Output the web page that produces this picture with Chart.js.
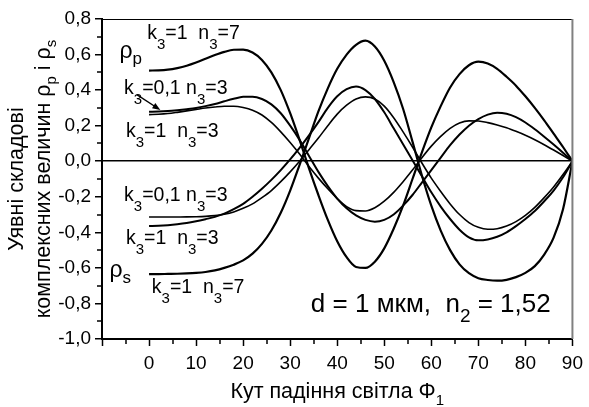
<!DOCTYPE html>
<html>
<head>
<meta charset="utf-8">
<script src="https://cdn.jsdelivr.net/npm/chart.js@4.4.1/dist/chart.umd.min.js"></script>
<style>
html,body{margin:0;padding:0;background:#fff}
</style>
</head>
<body>
<canvas id="graf" width="589" height="407"></canvas>
<script>
// ===== ДАНІ =====
// кут падіння, градуси
const kuty = [0,2,4,6,8,10,12,14,16,18,20,22,24,26,28,30,32,34,36,38,40,42,44,46,48,50,52,54,56,58,60,62,64,66,68,70,72,74,76,78,80,82,84,86,88,90]

// ρp
const rhoP_k1_n7 = [0.51,0.511,0.515,0.524,0.537,0.555,0.576,0.597,0.615,0.627,0.628,0.612,0.57,0.50,0.40,0.27,0.12,-0.04,-0.19,-0.33,-0.45,-0.54,-0.595,-0.60,-0.565,-0.49,-0.38,-0.25,-0.10,0.05,0.19,0.31,0.415,0.49,0.54,0.56,0.55,0.52,0.475,0.425,0.365,0.30,0.23,0.155,0.08,0]
const rhoP_k01_n3 = [0.278,0.279,0.282,0.287,0.293,0.30,0.31,0.322,0.337,0.351,0.362,0.363,0.35,0.32,0.27,0.20,0.12,0.03,-0.06,-0.14,-0.21,-0.265,-0.305,-0.33,-0.34,-0.33,-0.30,-0.25,-0.19,-0.12,-0.05,0.02,0.09,0.15,0.20,0.237,0.262,0.273,0.267,0.248,0.218,0.18,0.138,0.094,0.048,0]
const rhoP_k1_n3 = [0.262,0.264,0.268,0.275,0.283,0.291,0.299,0.305,0.309,0.309,0.302,0.287,0.26,0.218,0.165,0.105,0.04,-0.03,-0.095,-0.155,-0.21,-0.255,-0.278,-0.28,-0.262,-0.225,-0.175,-0.115,-0.05,0.02,0.085,0.14,0.185,0.215,0.227,0.226,0.217,0.204,0.188,0.168,0.146,0.121,0.093,0.063,0.032,0]

// ρs
const rhoS_k01_n3 = [-0.314,-0.314,-0.314,-0.3135,-0.313,-0.312,-0.31,-0.306,-0.298,-0.285,-0.265,-0.24,-0.205,-0.165,-0.115,-0.06,0.0,0.065,0.13,0.20,0.265,0.315,0.35,0.362,0.35,0.31,0.245,0.165,0.08,-0.01,-0.095,-0.17,-0.24,-0.30,-0.345,-0.372,-0.383,-0.38,-0.365,-0.34,-0.305,-0.26,-0.205,-0.145,-0.075,0]
const rhoS_k1_n3 = [-0.364,-0.363,-0.36,-0.355,-0.348,-0.338,-0.326,-0.313,-0.295,-0.27,-0.24,-0.20,-0.155,-0.105,-0.05,0.01,0.075,0.145,0.22,0.30,0.365,0.405,0.42,0.40,0.35,0.275,0.185,0.095,0.005,-0.085,-0.175,-0.255,-0.325,-0.385,-0.428,-0.445,-0.44,-0.425,-0.40,-0.365,-0.325,-0.28,-0.225,-0.165,-0.09,0]
const rhoS_k1_n7 = [-0.635,-0.635,-0.634,-0.633,-0.631,-0.628,-0.623,-0.614,-0.60,-0.582,-0.558,-0.52,-0.465,-0.39,-0.29,-0.165,-0.02,0.13,0.28,0.41,0.52,0.60,0.655,0.678,0.645,0.565,0.445,0.295,0.11,-0.08,-0.25,-0.39,-0.50,-0.58,-0.63,-0.658,-0.668,-0.672,-0.667,-0.652,-0.628,-0.59,-0.525,-0.43,-0.27,0]

// підписи кривих: [текст, індекс?]
const pidpysy = [
    { x: -6.3, y: 0.58,   chastyny: [["ρ",0],["p",1]], velyki: true },
    { x: -0.4, y: 0.69,   chastyny: [["k",0],["3",1],["=1  n",0],["3",1],["=7",0]] },
    { x: -5.3, y: 0.38,   chastyny: [["k",0],["3",1],["=0,1 n",0],["3",1],["=3",0]] },
    { x: -4.9, y: 0.135,  chastyny: [["k",0],["3",1],["=1  n",0],["3",1],["=3",0]] },
    { x: -5.3, y: -0.224, chastyny: [["k",0],["3",1],["=0,1 n",0],["3",1],["=3",0]] },
    { x: -4.9, y: -0.468, chastyny: [["k",0],["3",1],["=1  n",0],["3",1],["=3",0]] },
    { x: -8.4, y: -0.652, chastyny: [["ρ",0],["s",1]], velyki: true },
    { x: 0.6,  y: -0.744, chastyny: [["k",0],["3",1],["=1  n",0],["3",1],["=7",0]] }
]
const strilka = { vid: [-2.6, 0.375], do: [2.4, 0.288] }
const pryminka = { x: 34.4, y: -0.849, chastyny: [["d = 1 мкм,  n",0],["2",1],[" = 1,52",0]] }

const nazvaX = [["Кут падіння світла Φ",0],["1",1]]
const nazvaY1 = [["Уявні складові",0]]
const nazvaY2 = [["комплексних величин ρ",0],["p",1],[" і ρ",0],["s",1]]

const SHRYFT = "'Liberation Sans', Arial, sans-serif"


// ===== ДОПОМІЖНІ =====

function tochky(vals){
    return kuty.map((x, i) => ({ x: x, y: vals[i] }))
}

function shyryna(ctx, chastyny, r, ri){
    let w = 0
    chastyny.forEach(([t, ind]) => {
        ctx.font = (ind ? ri : r) + "px " + SHRYFT
        w += ctx.measureText(t).width
    })
    return w
}

function tekst(ctx, chastyny, x, y, r, ri, zsuv){
    let px = x
    chastyny.forEach(([t, ind]) => {
        ctx.font = (ind ? ri : r) + "px " + SHRYFT
        ctx.fillText(t, px, ind ? y + zsuv : y)
        px += ctx.measureText(t).width
    })
}

function liniya(d, lw){
    return {
        data: tochky(d),
        borderColor: "#000",
        borderWidth: lw,
        pointRadius: 0,
        fill: false,
        cubicInterpolationMode: "monotone"
    }
}


// ===== ДОДАТКОВЕ МАЛЮВАННЯ =====

const dodatky = {
    id: "dodatky",
    afterDraw(chart){
        const ctx = chart.ctx
        const a = chart.chartArea
        const sx = chart.scales.x
        const sy = chart.scales.y

        ctx.save()
        ctx.fillStyle = "#000"
        ctx.strokeStyle = "#000"
        ctx.textBaseline = "alphabetic"
        ctx.textAlign = "left"

        // рамка зверху і справа
        ctx.lineWidth = 1
        ctx.beginPath()
        ctx.moveTo(a.left, a.top + 0.5)
        ctx.lineTo(a.right, a.top + 0.5)
        ctx.stroke()
        ctx.strokeStyle = "#808080"
        ctx.lineWidth = 2
        ctx.beginPath()
        ctx.moveTo(a.right, a.top)
        ctx.lineTo(a.right, a.bottom)
        ctx.stroke()

        // дрібні поділки
        ctx.strokeStyle = "#000"
        ctx.lineWidth = 1.5
        ctx.beginPath()
        for(let v = -0.9; v < 0.8; v += 0.2){
            const py = Math.round(sy.getPixelForValue(v))
            ctx.moveTo(a.left - 1, py)
            ctx.lineTo(a.left - 5, py)
        }
        for(let v = -5; v < 90; v += 10){
            const px = Math.round(sx.getPixelForValue(v))
            ctx.moveTo(px, a.bottom + 1)
            ctx.lineTo(px, a.bottom + 5)
        }
        ctx.stroke()

        // підписи кривих
        pidpysy.forEach(p => {
            const px = sx.getPixelForValue(p.x)
            const py = sy.getPixelForValue(p.y)
            if(p.velyki){
                tekst(ctx, p.chastyny, px, py, 23, 17, 6)
            }else{
                tekst(ctx, p.chastyny, px, py, 19.5, 15, 10)
            }
        })

        // стрілка
        const x1 = sx.getPixelForValue(strilka.vid[0]), y1 = sy.getPixelForValue(strilka.vid[1])
        const x2 = sx.getPixelForValue(strilka.do[0]), y2 = sy.getPixelForValue(strilka.do[1])
        const kut = Math.atan2(y2 - y1, x2 - x1)
        ctx.lineWidth = 1.4
        ctx.beginPath()
        ctx.moveTo(x1, y1)
        ctx.lineTo(x2 - 5 * Math.cos(kut), y2 - 5 * Math.sin(kut))
        ctx.stroke()
        ctx.beginPath()
        ctx.moveTo(x2, y2)
        ctx.lineTo(x2 - 8 * Math.cos(kut) + 3 * Math.sin(kut), y2 - 8 * Math.sin(kut) - 3 * Math.cos(kut))
        ctx.lineTo(x2 - 8 * Math.cos(kut) - 3 * Math.sin(kut), y2 - 8 * Math.sin(kut) + 3 * Math.cos(kut))
        ctx.closePath()
        ctx.fill()

        // примітка
        tekst(ctx, pryminka.chastyny, sx.getPixelForValue(pryminka.x), sy.getPixelForValue(pryminka.y), 26, 19, 10)

        // назва осі X
        const wx = shyryna(ctx, nazvaX, 21.5, 15)
        tekst(ctx, nazvaX, (a.left + a.right) / 2 - wx / 2, 398, 21.5, 15, 7)

        // назва осі Y (два рядки)
        const cy = (a.top + a.bottom) / 2
        const w1 = shyryna(ctx, nazvaY1, 21.5, 15)
        const w2 = shyryna(ctx, nazvaY2, 21.5, 15)
        ctx.translate(23, cy)
        ctx.rotate(-Math.PI / 2)
        tekst(ctx, nazvaY1, -w1 / 2, 0, 21.5, 15, 6)
        tekst(ctx, nazvaY2, -w2 / 2, 27, 21.5, 15, 6)

        ctx.restore()
    }
}


// ===== ГРАФІК =====

const grafik = new Chart(document.getElementById("graf"), {
    type: "line",
    data: {
        datasets: [
            liniya(rhoP_k1_n7, 2.2),
            liniya(rhoP_k01_n3, 2),
            liniya(rhoP_k1_n3, 1.6),
            liniya(rhoS_k01_n3, 1.6),
            liniya(rhoS_k1_n3, 2),
            liniya(rhoS_k1_n7, 2.2)
        ]
    },
    options: {
        responsive: false,
        animation: false,
        devicePixelRatio: 1,
        layout: { padding: { left: 0, right: 12, top: 19, bottom: 0 } },
        plugins: {
            legend: { display: false },
            tooltip: { enabled: false }
        },
        scales: {
            x: {
                type: "linear",
                min: -10,
                max: 90,
                afterFit: s => { s.height = 68 },
                ticks: {
                    stepSize: 10,
                    autoSkip: false,
                    maxRotation: 0,
                    padding: 6,
                    color: "#000",
                    font: { family: SHRYFT, size: 19 },
                    callback: v => v < 0 ? "" : String(v)
                },
                grid: { drawOnChartArea: false, tickLength: 7, tickColor: "#000", tickWidth: 1.5 },
                border: { color: "#000", width: 2 }
            },
            y: {
                min: -1,
                max: 0.8,
                afterFit: s => { s.width = 102 },
                ticks: {
                    stepSize: 0.2,
                    padding: 4,
                    color: "#000",
                    font: { family: SHRYFT, size: 19 },
                    callback: v => v.toFixed(1).replace(".", ",")
                },
                grid: {
                    color: c => (c.tick && Math.abs(c.tick.value) < 1e-9) ? "#000" : "rgba(0,0,0,0)",
                    lineWidth: 1.5,
                    tickLength: 7,
                    tickColor: "#000",
                    tickWidth: 1.5
                },
                border: { color: "#000", width: 2 }
            }
        }
    },
    plugins: [dodatky]
})
</script>
</body>
</html>
